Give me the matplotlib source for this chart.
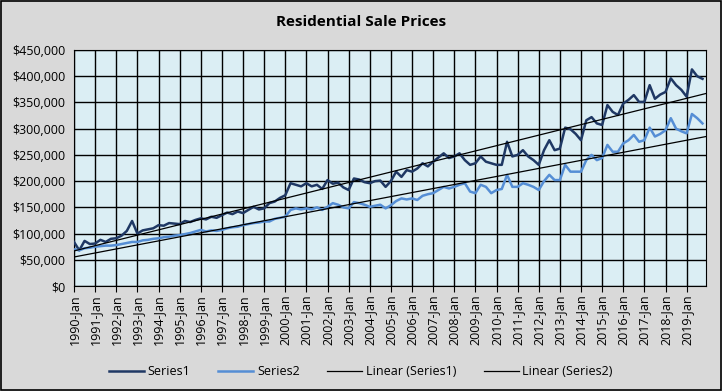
import numpy as np
import matplotlib.pyplot as plt
from matplotlib.patches import Rectangle
from matplotlib.ticker import FuncFormatter

# quarterly readings (Jan, Apr, Jul, Oct), thousands of dollars
years = list(range(1990, 2020))

series1 = [
    84, 68, 86, 80,   81, 88, 84, 90,   91, 96, 105, 124,  100, 106, 108, 110,
    116, 115, 120, 119,  118, 124, 122, 126,  129, 127, 132, 130,  135, 140, 137, 142,
    139, 145, 151, 146,  148, 158, 161, 168,  173, 196, 193, 190,  196, 190, 193, 185,
    202, 195, 197, 188,  183, 205, 203, 198,  196, 200, 201, 189,  200, 218, 208, 221,
    218, 224, 234, 228,  237, 245, 253, 244,  247, 253, 240, 231,  234, 247, 237, 234,
    231, 231, 275, 247,  250, 259, 247, 240,  231, 259, 278, 259,  262, 302, 299, 290,
    278, 316, 322, 310,  307, 345, 332, 326,  348, 355, 364, 351,  351, 383, 357, 365,
    370, 396, 383, 374,  361, 413, 400, 395,
]

series2 = [
    70, 68, 72, 73,   75, 76, 77, 77,   78, 80, 82, 84,   84, 87, 88, 90,
    91, 93, 94, 96,   97, 99, 101, 104,  107, 104, 106, 105,  107, 110, 112, 113,
    116, 118, 120, 121,  123, 123, 128, 130,  132, 145, 148, 146,  148, 146, 150, 145,
    151, 158, 155, 150,  148, 160, 158, 155,  151, 153, 155, 148,  154, 162, 167, 165,
    167, 164, 172, 175,  177, 183, 189, 186,  189, 193, 196, 180,  177, 193, 189, 177,
    183, 185, 212, 189,  189, 196, 193, 189,  183, 200, 212, 202,  202, 231, 218, 218,
    218, 240, 250, 240,  244, 269, 256, 256,  272, 278, 288, 275,  278, 302, 285, 290,
    297, 320, 300, 295,  291, 328, 320, 310,
]

s1 = np.array(series1) * 1000
s2 = np.array(series2) * 1000
months = np.arange(len(s1)) * 3   # months since 1990-Jan

plt.rcParams['font.family'] = ['Open Sans', 'DejaVu Sans']

fig = plt.figure(figsize=(7.22, 3.91), dpi=100, facecolor='#d9d9d9')
fig.patches.append(Rectangle((0.001, 0.002), 0.997, 0.995, transform=fig.transFigure,
                             fill=False, edgecolor='black', linewidth=1.2))
ax = fig.add_axes([74/722, 1 - 286/391, 632/722, 236/391])
ax.set_facecolor('#dbeef4')

ax.plot(months, s1, color='#1f3864', linewidth=1.8, label='Series1', zorder=3)
ax.plot(months, s2, color='#558ed5', linewidth=1.8, label='Series2', zorder=3)

# linear trend lines like Excel's
xfit = np.array([0, 359])
for s, name in [(s1, 'Linear (Series1)'), (s2, 'Linear (Series2)')]:
    a, b = np.polyfit(months, s, 1)
    ax.plot(xfit, a * xfit + b, color='black', linewidth=0.9, label=name, zorder=4)

ax.set_xlim(0, 359)
ax.set_ylim(0, 450000)
ax.set_yticks(np.arange(0, 450001, 50000))
ax.yaxis.set_major_formatter(FuncFormatter(lambda v, p: f"${v:,.0f}"))
ax.set_xticks(np.arange(0, 360, 12))
ax.set_xticklabels([f"{y}-Jan" for y in years], rotation=90)
ax.grid(True, color='black', linewidth=1)
ax.set_axisbelow(True)
ax.tick_params(axis='x', length=4, color='black', labelsize=9, pad=2)
ax.tick_params(axis='y', length=0, labelsize=9, pad=6)
for sp in ax.spines.values():
    sp.set_color('black')

fig.text(0.5, 0.945, 'Residential Sale Prices', ha='center', va='center',
         fontsize=11, fontweight='bold')
fig.legend(loc='center', bbox_to_anchor=(0.5, 0.05), ncol=4, frameon=False,
           fontsize=9, handlelength=2.8, columnspacing=2.2, handletextpad=0.3)

fig.savefig('out.png', dpi=100, facecolor=fig.get_facecolor())
